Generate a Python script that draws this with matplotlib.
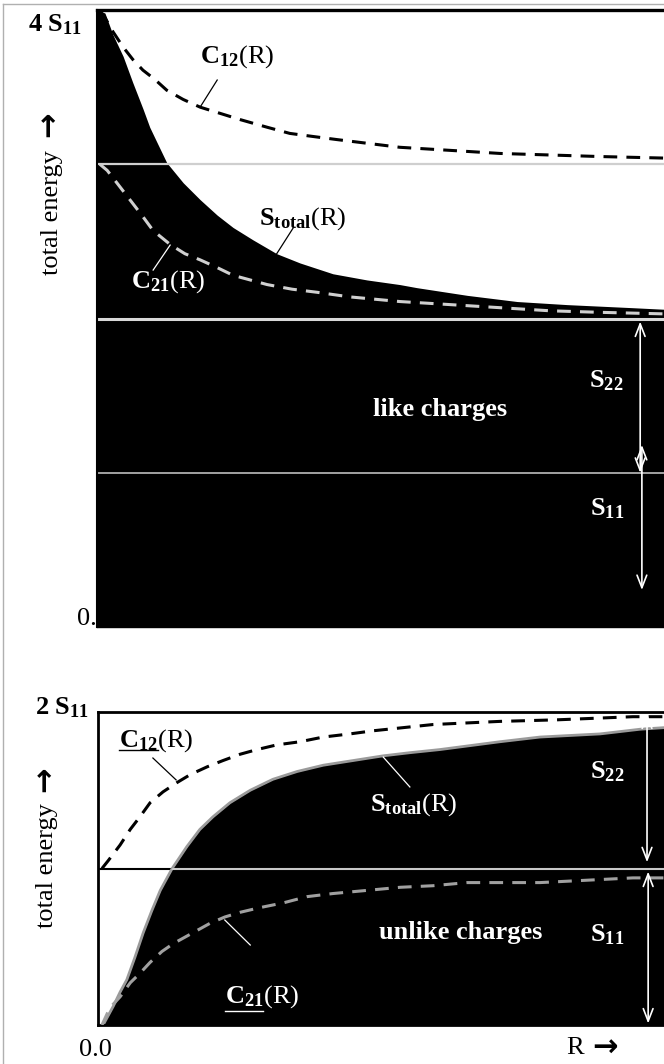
import matplotlib
matplotlib.use("Agg")
import matplotlib.pyplot as plt
from matplotlib.lines import Line2D

plt.rcParams['font.family'] = ['Liberation Serif', 'DejaVu Serif']
plt.rcParams['mathtext.fontset'] = 'custom'
plt.rcParams['mathtext.rm'] = 'Liberation Serif'
plt.rcParams['mathtext.bf'] = 'Liberation Serif:bold'
plt.rcParams['mathtext.it'] = 'Liberation Serif:italic'

# like charges: energies in units of S11, R from 0 to 1
r_like_s = [0, 0.014, 0.028, 0.046, 0.063, 0.081, 0.093, 0.106, 0.123, 0.152, 0.182, 0.212,
            0.240, 0.275, 0.317, 0.358, 0.416, 0.476, 0.534, 0.564, 0.653, 0.741, 0.829, 0.945, 1.0]
s_like = [4.0, 3.98, 3.84, 3.70, 3.53, 3.36, 3.24, 3.14, 3.01, 2.88, 2.77, 2.67,
          2.59, 2.51, 2.42, 2.36, 2.29, 2.25, 2.22, 2.20, 2.15, 2.11, 2.09, 2.07, 2.06]
r_like_c12 = [0.005, 0.011, 0.028, 0.046, 0.063, 0.081, 0.102, 0.123, 0.152, 0.182, 0.217,
              0.252, 0.300, 0.340, 0.381, 0.423, 0.534, 0.623, 0.711, 0.799, 0.887, 1.0]
c12_like = [3.99, 3.97, 3.86, 3.76, 3.68, 3.61, 3.55, 3.48, 3.42, 3.37, 3.33,
            3.29, 3.24, 3.20, 3.18, 3.16, 3.11, 3.09, 3.07, 3.06, 3.05, 3.04]
r_like_c21 = [0.005, 0.018, 0.037, 0.058, 0.079, 0.099, 0.129, 0.155, 0.182, 0.212, 0.240,
              0.270, 0.300, 0.344, 0.388, 0.446, 0.534, 0.623, 0.711, 0.799, 0.887, 1.0]
c21_like = [3.0, 2.96, 2.87, 2.77, 2.67, 2.57, 2.48, 2.42, 2.38, 2.33, 2.28,
            2.25, 2.22, 2.19, 2.17, 2.14, 2.11, 2.09, 2.07, 2.05, 2.04, 2.03]

# unlike charges
r_unl_s = [0.009, 0.012, 0.027, 0.039, 0.051, 0.065, 0.080, 0.095, 0.110, 0.131, 0.157, 0.180,
           0.203, 0.233, 0.269, 0.309, 0.352, 0.398, 0.451, 0.504, 0.551, 0.604, 0.710, 0.781,
           0.887, 0.958, 1.0]
s_unl = [0.0, 0.02, 0.12, 0.21, 0.29, 0.43, 0.59, 0.73, 0.86, 1.0, 1.14, 1.25,
         1.33, 1.42, 1.50, 1.57, 1.62, 1.66, 1.69, 1.72, 1.74, 1.76, 1.81, 1.84,
         1.86, 1.89, 1.90]
r_unl_c12 = [0.007, 0.018, 0.039, 0.057, 0.074, 0.092, 0.115, 0.140, 0.163, 0.193, 0.221, 0.251,
             0.281, 0.316, 0.357, 0.398, 0.445, 0.486, 0.539, 0.592, 0.710, 0.811, 0.945, 1.0]
c12_unl = [1.0, 1.05, 1.15, 1.25, 1.33, 1.42, 1.49, 1.55, 1.60, 1.65, 1.69, 1.73,
           1.76, 1.79, 1.81, 1.84, 1.86, 1.88, 1.90, 1.92, 1.94, 1.95, 1.97, 1.97]
r_unl_c21 = [0.007, 0.021, 0.039, 0.057, 0.074, 0.092, 0.113, 0.133, 0.163, 0.198, 0.224, 0.251,
             0.286, 0.327, 0.369, 0.415, 0.475, 0.534, 0.592, 0.652, 0.781, 0.945, 1.0]
c21_unl = [0.0, 0.11, 0.18, 0.27, 0.33, 0.40, 0.47, 0.52, 0.58, 0.65, 0.69, 0.72,
           0.75, 0.78, 0.82, 0.84, 0.86, 0.88, 0.89, 0.91, 0.91, 0.94, 0.94]

W, H = 664, 1064
fig = plt.figure(figsize=(W / 100, H / 100), dpi=100)


def box(x0, y0, x1, y1):
    # pixel box (top-left origin) -> figure fraction rect
    return [x0 / W, 1 - y1 / H, (x1 - x0) / W, (y1 - y0) / H]


# thin frame round the page
fig.add_artist(Line2D([3 / W, 3 / W], [0, 1 - 4 / H], color='#b0b0b0', lw=1))
fig.add_artist(Line2D([3 / W, 1], [1 - 4 / H, 1 - 4 / H], color='#b0b0b0', lw=1))

FS = 19
bold = dict(fontsize=FS, fontweight='bold')
lbl = dict(fontsize=FS)
dash = (4.5, 3)
arr = dict(arrowstyle='<->,head_length=0.9,head_width=0.35', color='white', lw=1.2,
           shrinkA=0, shrinkB=0)

# ---------- like charges ----------
ax1 = fig.add_axes(box(97, 10, 664, 627))
ax1.set_xlim(0, 1)
ax1.set_ylim(0, 4)
ax1.fill_between(r_like_s, 0, s_like, color='black', lw=0, zorder=1)
ax1.axhline(3, color='#cfcfcf', lw=1.6, zorder=2)
ax1.axhline(2, color='#d8d8d8', lw=2.2, zorder=2)
ax1.axhline(1, color='#bdbdbd', lw=1.2, zorder=2)
ax1.plot(r_like_c12, c12_like, color='black', lw=2.2, dashes=dash, zorder=3)
ax1.plot(r_like_c21, c21_like, color='#d0d0d0', lw=2.2, dashes=dash, zorder=3)

ax1.text(0.247, 3.70, r'$\mathbf{C}_{\mathbf{12}}\mathrm{(R)}$', ha='center', va='center', color='black', **lbl)
ax1.plot([0.212, 0.182], [3.546, 3.371], color='black', lw=0.9)
ax1.text(0.362, 2.65, r'$\mathbf{S}_{\mathbf{total}}\mathrm{(R)}$', ha='center', va='center', color='black', **lbl)
ax1.plot([0.346, 0.317], [2.587, 2.42], color='black', lw=0.9)
ax1.text(0.125, 2.237, r'$\mathbf{C}_{\mathbf{21}}\mathrm{(R)}$', ha='center', va='center', color='white', **lbl)
ax1.plot([0.099, 0.129], [2.314, 2.476], color='white', lw=0.9)
ax1.text(0.605, 1.407, 'like charges', ha='center', va='center', color='white', **bold)
ax1.text(0.899, 1.60, r'$\mathbf{S}_{\mathbf{22}}$', ha='center', va='center', color='white', **lbl)
ax1.text(0.899, 0.77, r'$\mathbf{S}_{\mathbf{11}}$', ha='center', va='center', color='white', **lbl)
ax1.annotate('', xy=(0.958, 1.98), xytext=(0.958, 1.0), arrowprops=arr)
ax1.annotate('', xy=(0.961, 1.18), xytext=(0.961, 0.24), arrowprops=arr)

ax1.spines['right'].set_visible(False)
ax1.spines['top'].set_linewidth(2.4)
ax1.spines['left'].set_linewidth(1.5)
ax1.spines['bottom'].set_linewidth(1.0)
ax1.set_xticks([])
ax1.set_yticks([])

# ---------- unlike charges ----------
ax2 = fig.add_axes(box(98, 712, 664, 1025))
ax2.set_xlim(0, 1)
ax2.set_ylim(0, 2)
ax2.axhline(1, color='black', lw=1.5, zorder=1)
poly = ax2.fill_between(r_unl_s, 0, s_unl, color='black', lw=0, zorder=2)
ax2.plot(r_unl_s, s_unl, color='#9a9a9a', lw=2.0, zorder=2.5)
inner = ax2.axhline(1, color='#c8c8c8', lw=1.5, zorder=3)
inner.set_clip_path(poly.get_paths()[0], transform=ax2.transData)
ax2.plot(r_unl_c12, c12_unl, color='black', lw=2.2, dashes=dash, zorder=4)
ax2.plot(r_unl_c21, c21_unl, color='#a0a0a0', lw=2.2, dashes=dash, zorder=4)

ax2.text(0.102, 1.82, r'$\mathbf{C}_{\mathbf{12}}\mathrm{(R)}$', ha='center', va='center', color='black', **lbl)
ax2.plot([0.037, 0.106], [1.757, 1.757], color='black', lw=1.0)
ax2.plot([0.097, 0.138], [1.706, 1.566], color='black', lw=0.9)
ax2.text(0.557, 1.406, r'$\mathbf{S}_{\mathbf{total}}\mathrm{(R)}$', ha='center', va='center', color='white', zorder=5, **lbl)
ax2.plot([0.504, 0.551], [1.712, 1.521], color='white', lw=0.9, zorder=5)
ax2.text(0.290, 0.179, r'$\mathbf{C}_{\mathbf{21}}\mathrm{(R)}$', ha='center', va='center', color='white', zorder=5, **lbl)
ax2.plot([0.224, 0.292], [0.089, 0.089], color='white', lw=1.0, zorder=5)
ax2.plot([0.224, 0.269], [0.671, 0.511], color='white', lw=0.9, zorder=5)
ax2.text(0.640, 0.588, 'unlike charges', ha='center', va='center', color='white', zorder=5, **bold)
ax2.text(0.899, 1.617, r'$\mathbf{S}_{\mathbf{22}}$', ha='center', va='center', color='white', zorder=5, **lbl)
ax2.text(0.899, 0.575, r'$\mathbf{S}_{\mathbf{11}}$', ha='center', va='center', color='white', zorder=5, **lbl)
ax2.annotate('', xy=(0.970, 1.99), xytext=(0.970, 1.04), arrowprops=arr, zorder=5)
ax2.annotate('', xy=(0.972, 0.98), xytext=(0.972, 0.01), arrowprops=arr, zorder=5)

ax2.spines['right'].set_visible(False)
for s in ['top', 'left', 'bottom']:
    ax2.spines[s].set_linewidth(2.0)
ax2.set_xticks([])
ax2.set_yticks([])


# ---------- outer labels ----------
def ftext(x, y, s, **kw):
    fig.text(x / W, 1 - y / H, s, ha='center', va='center', **kw)


ftext(55, 25, r'$\mathbf{4\ S}_{\mathbf{11}}$', fontsize=FS)
ftext(62, 708, r'$\mathbf{2\ S}_{\mathbf{11}}$', fontsize=FS)
fig.text(97 / W, 1 - 619 / H, '0.', ha='right', va='center', fontsize=FS)
ftext(95, 1050, '0.0', fontsize=FS)
ftext(575, 1048, 'R', fontsize=FS)
ftext(605, 1048, '\u2192', fontsize=22, family='DejaVu Sans', fontweight='bold')
ftext(52, 213, 'total energy', fontsize=FS, rotation=90)
ftext(50, 124, '\u2192', fontsize=22, rotation=90, family='DejaVu Sans', fontweight='bold')
ftext(47, 866, 'total energy', fontsize=FS, rotation=90)
ftext(46, 779, '\u2192', fontsize=22, rotation=90, family='DejaVu Sans', fontweight='bold')

fig.savefig('out.png', dpi=100)
